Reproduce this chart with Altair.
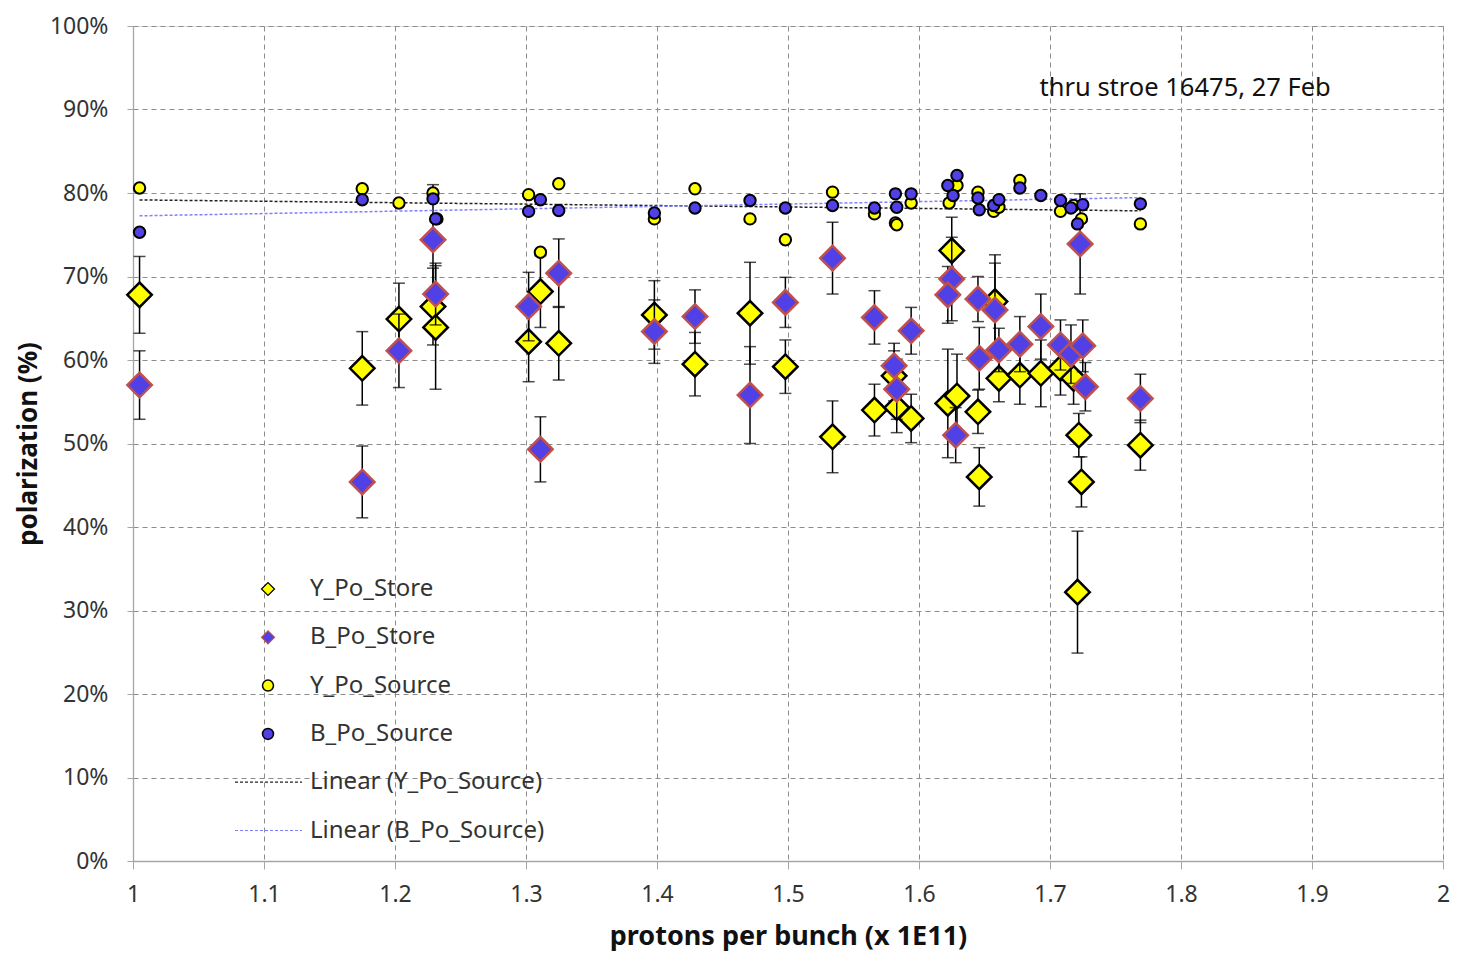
import altair as alt
import pandas as pd

# ---------------- data ----------------
ys_x = [1.005, 1.175, 1.203, 1.229, 1.231, 1.302, 1.311, 1.325, 1.398, 1.429, 1.471, 1.498,
        1.534, 1.566, 1.581, 1.583, 1.594, 1.625, 1.622, 1.629, 1.645, 1.646, 1.658, 1.661,
        1.677, 1.693, 1.708, 1.718, 1.722, 1.724, 1.721, 1.769]
ys_y = [67.8, 59.0, 64.9, 66.4, 63.9, 62.2, 68.2, 62.0, 65.4, 59.5, 65.6, 59.2,
        50.8, 54.0, 58.1, 54.3, 53.0, 73.1, 54.8, 55.7, 53.8, 46.0, 67.0, 57.8,
        58.2, 58.4, 59.0, 57.8, 51.0, 45.4, 32.2, 49.8]
ys_e = [4.6, 4.4, 4.3, 4.6, 7.4, 4.8, 4.3, 4.4, 4.1, 3.8, 6.1, 3.2,
        4.3, 3.1, 3.0, 3.0, 2.9, 4.0, 6.5, 5.0, 2.6, 3.5, 5.6, 2.8,
        3.5, 4.0, 3.2, 3.1, 2.6, 3.0, 7.3, 3.0]

bs_x = [1.005, 1.175, 1.203, 1.229, 1.231, 1.302, 1.311, 1.325, 1.398, 1.429, 1.471, 1.498,
        1.534, 1.566, 1.581, 1.583, 1.594, 1.625, 1.622, 1.628, 1.645, 1.646, 1.658, 1.661,
        1.677, 1.693, 1.708, 1.716, 1.723, 1.725, 1.727, 1.769]
bs_y = [57.0, 45.4, 61.1, 74.4, 67.9, 66.4, 49.3, 70.4, 63.4, 65.2, 55.8, 66.9,
        72.2, 65.1, 59.3, 56.5, 63.5, 69.7, 67.8, 51.0, 67.3, 60.2, 66.0, 61.2,
        61.9, 64.0, 61.8, 60.7, 73.9, 61.7, 56.8, 55.4]
bs_e = [4.1, 4.3, 4.4, 6.6, 3.7, 4.1, 3.9, 4.1, 3.8, 3.2, 5.8, 3.0,
        4.3, 3.2, 2.7, 3.6, 2.8, 5.0, 3.4, 3.3, 2.7, 3.7, 5.6, 2.6,
        3.3, 3.9, 3.0, 3.5, 6.0, 3.1, 2.9, 2.9]

yc_x = [1.005, 1.175, 1.203, 1.229, 1.232, 1.302, 1.311, 1.325, 1.398, 1.429, 1.471, 1.498,
        1.534, 1.566, 1.582, 1.583, 1.594, 1.623, 1.629, 1.645, 1.657, 1.661, 1.677, 1.708,
        1.718, 1.724, 1.769]
yc_y = [80.6, 80.5, 78.8, 80.0, 76.9, 79.8, 72.9, 81.1, 76.9, 80.5, 76.9, 74.4,
        80.1, 77.5, 76.4, 76.2, 78.8, 78.8, 80.9, 80.1, 77.8, 78.3, 81.5, 77.8,
        78.5, 76.9, 76.3]

bc_x = [1.005, 1.175, 1.229, 1.231, 1.302, 1.311, 1.325, 1.398, 1.429, 1.471, 1.498, 1.534,
        1.566, 1.582, 1.583, 1.594, 1.622, 1.629, 1.626, 1.645, 1.646, 1.657, 1.661, 1.677,
        1.693, 1.708, 1.716, 1.721, 1.725, 1.769]
bc_y = [75.3, 79.2, 79.3, 76.9, 77.8, 79.2, 77.9, 77.6, 78.2, 79.1, 78.2, 78.5,
        78.2, 79.9, 78.3, 79.9, 80.9, 82.1, 79.7, 79.4, 78.0, 78.5, 79.2, 80.6,
        79.7, 79.1, 78.2, 76.3, 78.6, 78.7]

x_ticks = [1.0, 1.1, 1.2, 1.3, 1.4, 1.5, 1.6, 1.7, 1.8, 1.9, 2.0]
y_ticks = [0, 10, 20, 30, 40, 50, 60, 70, 80, 90, 100]

legend_labels = ["Y_Po_Store", "B_Po_Store", "Y_Po_Source", "B_Po_Source",
                 "Linear (Y_Po_Source)", "Linear (B_Po_Source)"]
note_text = ["thru stroe 16475, 27 Feb"]
note_x = [1.692]
note_y = [92.6]

# ---------------- style ----------------
FONT = "Noto Sans"
YELLOW = "#FFFF00"
BLUE = "#5040E6"
RED = "#C0504D"
TXT = "#333333"
W, H = 1310, 835

ys = pd.DataFrame({"x": ys_x, "y": ys_y, "e": ys_e})
bs = pd.DataFrame({"x": bs_x, "y": bs_y, "e": bs_e})
yc = pd.DataFrame({"x": yc_x, "y": yc_y})
bc = pd.DataFrame({"x": bc_x, "y": bc_y})
note = pd.DataFrame({"x": note_x, "y": note_y, "t": note_text})

xscale = alt.Scale(domain=[1, 2], nice=False, zero=False)
yscale = alt.Scale(domain=[0, 100], nice=False)

xaxis = alt.Axis(values=x_ticks, format=".1~f", title="protons per bunch (x 1E11)",
                 grid=True, gridDash=[5, 4], gridColor="#8C8C8C", gridWidth=1,
                 domainColor="#A6A6A6", domainWidth=1.3, tickColor="#A6A6A6", tickSize=8,
                 labelFontSize=23, labelColor=TXT, labelFont=FONT, labelPadding=14,
                 labelFlush=False,
                 titleFontSize=27, titleFont=FONT, titleFontWeight="bold", titleColor="#111111",
                 titleX=W / 2, titleY=75, titleBaseline="middle", titleAlign="center")
yaxis = alt.Axis(values=y_ticks, labelExpr="datum.value + '%'", title="polarization (%)",
                 grid=True, gridDash=[5, 4], gridColor="#8C8C8C", gridWidth=1,
                 domainColor="#A6A6A6", domainWidth=1.3, tickColor="#A6A6A6", tickSize=6,
                 labelFontSize=23, labelColor=TXT, labelFont=FONT, labelPadding=19,
                 labelFlush=False,
                 titleFontSize=26, titleFont=FONT, titleFontWeight="bold", titleColor="#111111",
                 titleX=-105, titleY=H / 2, titleAngle=-90, titleBaseline="middle",
                 titleAlign="center")

X = alt.X("x:Q", scale=xscale, axis=xaxis)
Y = alt.Y("y:Q", scale=yscale, axis=yaxis)
Xn = alt.X("x:Q", scale=xscale)
Yn = alt.Y("y:Q", scale=yscale)


def errbars(df):
    base = alt.Chart(df).transform_calculate(lo="datum.y - datum.e", hi="datum.y + datum.e")
    rule = base.mark_rule(color="black", strokeWidth=1.5).encode(
        x=Xn, y=alt.Y("lo:Q", scale=yscale), y2="hi:Q")
    cap_lo = base.mark_tick(color="black", thickness=1.5, size=12, orient="horizontal").encode(
        x=Xn, y=alt.Y("lo:Q", scale=yscale))
    cap_hi = base.mark_tick(color="black", thickness=1.5, size=12, orient="horizontal").encode(
        x=Xn, y=alt.Y("hi:Q", scale=yscale))
    return [rule, cap_lo, cap_hi]


axes_layer = alt.Chart(ys).mark_point(opacity=0).encode(x=X, y=Y)

ys_pts = alt.Chart(ys).mark_point(shape="diamond", filled=True, fill=YELLOW, stroke="black",
                                  strokeWidth=2.5, size=600, opacity=1).encode(x=Xn, y=Yn)
bs_pts = alt.Chart(bs).mark_point(shape="diamond", filled=True, fill=BLUE, stroke=RED,
                                  strokeWidth=2.5, size=600, opacity=1).encode(x=Xn, y=Yn)
yc_pts = alt.Chart(yc).mark_point(shape="circle", filled=True, fill=YELLOW, stroke="black",
                                  strokeWidth=2, size=130, opacity=1).encode(x=Xn, y=Yn)
bc_pts = alt.Chart(bc).mark_point(shape="circle", filled=True, fill=BLUE, stroke="black",
                                  strokeWidth=2, size=130, opacity=1).encode(x=Xn, y=Yn)

y_trend = alt.Chart(yc).transform_regression("x", "y", method="linear",
                                             extent=[min(yc_x), max(yc_x)]).mark_line(
    color="#222222", strokeWidth=1.5, strokeDash=[3, 2]).encode(x=Xn, y=Yn)
b_trend = alt.Chart(bc).transform_regression("x", "y", method="linear",
                                             extent=[min(bc_x), max(bc_x)]).mark_line(
    color="#7F7FFF", strokeWidth=1.5, strokeDash=[3, 2]).encode(x=Xn, y=Yn)

note_layer = alt.Chart(note).mark_text(align="left", baseline="middle", font=FONT, fontSize=25.5,
                                        color="#111111").encode(x=Xn, y=Yn, text="t:N")

# ---------------- manual legend ----------------
leg_y0, leg_dy = 563, 48.3
sym_x, txt_x = 135, 177
one = pd.DataFrame({"k": [0]})
legend_layers = []
sym_styles = [
    dict(shape="diamond", fill=YELLOW, stroke="black", strokeWidth=1.2, size=170),
    dict(shape="diamond", fill=BLUE, stroke=RED, strokeWidth=1.2, size=170),
    dict(shape="circle", fill=YELLOW, stroke="black", strokeWidth=1.5, size=120),
    dict(shape="circle", fill=BLUE, stroke="black", strokeWidth=1.5, size=120),
]
for i, lab in enumerate(legend_labels):
    yy = leg_y0 + i * leg_dy
    if i < 4:
        st = sym_styles[i]
        legend_layers.append(alt.Chart(one).mark_point(filled=True, opacity=1, **st).encode(
            x=alt.value(sym_x), y=alt.value(yy)))
    else:
        col = "#222222" if i == 4 else "#7F7FFF"
        legend_layers.append(alt.Chart(one).mark_rule(color=col, strokeWidth=1.2, strokeDash=[3, 2]).encode(
            x=alt.value(102), x2=alt.value(169), y=alt.value(yy)))
    legend_layers.append(alt.Chart(pd.DataFrame({"t": [lab]})).mark_text(
        align="left", baseline="middle", font=FONT, fontSize=24, color=TXT).encode(
        x=alt.value(txt_x), y=alt.value(yy), text="t:N"))

layers = [axes_layer] + errbars(ys) + [ys_pts] + errbars(bs) + [bs_pts, y_trend, b_trend, yc_pts, bc_pts,
                                                                 note_layer] + legend_layers

chart = alt.layer(*layers).properties(
    width=W, height=H,
    autosize=alt.AutoSizeParams(type="none"),
    padding={"left": 125, "top": 18, "right": 8, "bottom": 90},
).configure_view(stroke=None).configure(background="white")

chart.save("out.html", embed_options={"renderer": "svg", "actions": False})
